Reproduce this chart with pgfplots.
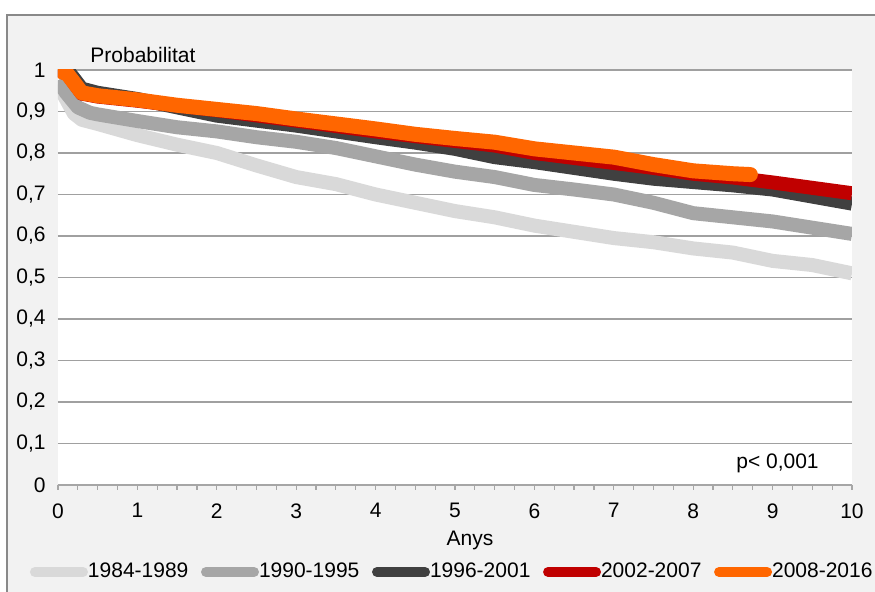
\documentclass[border=0pt]{standalone}
\usepackage{fontspec}
\setmainfont{Liberation Sans}
\usepackage{pgfplots}
\pgfplotsset{compat=1.18}
\usepackage{pgfplotstable}
\definecolor{cA}{HTML}{D9D9D9}
\definecolor{cB}{HTML}{A6A6A6}
\definecolor{cC}{HTML}{404040}
\definecolor{cD}{HTML}{C00000}
\definecolor{cE}{HTML}{FF6600}
\definecolor{bgc}{HTML}{F2F2F2}
\definecolor{bordc}{HTML}{898989}
\definecolor{gridc}{HTML}{A0A0A0}
\definecolor{axc}{HTML}{A6A6A6}

\pgfplotstableread{
x y
0 0.965
0.1 0.93
0.2 0.895
0.3 0.88
0.5 0.87
1 0.843
1.5 0.82
2 0.80
2.5 0.77
3 0.742
3.5 0.725
4 0.70
4.5 0.68
5 0.66
5.5 0.645
6 0.625
6.5 0.61
7 0.595
7.5 0.585
8 0.57
8.5 0.56
9 0.54
9.5 0.53
10 0.51
}\tA

\pgfplotstableread{
x y
0 0.975
0.1 0.945
0.25 0.91
0.4 0.897
0.5 0.893
1 0.877
1.5 0.862
2 0.852
2.5 0.838
3 0.827
3.5 0.812
4 0.792
4.5 0.772
5 0.755
5.5 0.742
6 0.723
6.5 0.712
7 0.70
7.5 0.68
8 0.655
8.5 0.645
9 0.635
9.5 0.62
10 0.605
}\tB

\pgfplotstableread{
x y
0 1.0
0.12 1.0
0.3 0.955
0.5 0.945
1 0.93
1.5 0.91
2 0.89
2.5 0.878
3 0.866
3.5 0.852
4 0.838
4.5 0.825
5 0.81
5.5 0.79
6 0.778
6.5 0.764
7 0.75
7.5 0.738
8 0.73
8.5 0.722
9 0.712
9.5 0.695
10 0.678
}\tC

\pgfplotstableread{
x y
0 1.0
0.12 0.99
0.3 0.943
0.5 0.936
1 0.926
2 0.903
3 0.878
4 0.852
5 0.829
5.5 0.818
6 0.80
6.5 0.788
7 0.776
7.5 0.764
8 0.75
8.5 0.741
9 0.729
9.5 0.716
10 0.703
}\tD

\pgfplotstableread{
x y
0 1.0
0.12 0.99
0.3 0.945
0.5 0.938
1 0.928
1.5 0.915
2 0.905
2.5 0.895
3 0.882
3.5 0.87
4 0.858
4.5 0.845
5 0.835
5.5 0.826
6 0.81
6.5 0.80
7 0.79
7.5 0.772
8 0.757
8.5 0.75
8.72 0.748
}\tE

\begin{document}
\fontsize{10.5pt}{12.6pt}\selectfont
\begin{tikzpicture}
\useasboundingbox (0,0) rectangle (437.5pt,296pt);
\fill[white] (0,0) rectangle (437.5pt,296pt);
\fill[bgc] (3.5pt,0) rectangle (437.5pt,288.5pt);
\draw[bordc, line width=1pt] (3.5pt,0) -- (3.5pt,288.5pt) -- (437.5pt,288.5pt);
\begin{axis}[
  at={(29pt,53.5pt)}, anchor=south west,
  scale only axis, width=397pt, height=207.5pt,
  xmin=0, xmax=10, ymin=0, ymax=1,
  axis background/.style={fill=white},
  axis x line*=bottom, axis y line*=left,
  x axis line style={draw=axc, line width=1pt},
  y axis line style={draw=none},
  xtick={0,1,2,3,4,5,6,7,8,9,10},
  minor x tick num=3,
  tick align=outside,
  major tick length=2.5pt, minor tick length=2.5pt,
  x tick style={draw=axc, line width=0.6pt},
  ytick={0,0.1,0.2,0.3,0.4,0.5,0.6,0.7,0.8,0.9,1},
  y tick style={draw=none},
  ymajorgrids, grid style={draw=gridc, line width=0.6pt},
  /pgf/number format/assume math mode=true,
  /pgf/number format/use comma,
  xticklabel style={yshift=-3pt},
  tick label style={font=\fontsize{10.5pt}{12.6pt}\selectfont},
  legend columns=5,
  legend style={at={(-0.0353,-0.2096)}, anchor=west, draw=none, fill=none,
     inner sep=0pt, outer sep=0pt,
     nodes={inner sep=0pt, font=\fontsize{10.5pt}{12.6pt}\selectfont},
     /tikz/every even column/.append style={column sep=6.3pt}},
  legend cell align=left,
  legend image code/.code={
    \draw[#1, line width=5pt, line cap=round] (2.5pt,0pt) -- (26.5pt,0pt);
  },
]
\addplot[cA, line width=7pt, line join=round] table[x=x,y=y] {\tA};
\addlegendentry{1984-1989}
\addplot[cB, line width=7pt, line join=round] table[x=x,y=y] {\tB};
\addlegendentry{1990-1995}
\addplot[cC, line width=7pt, line join=round] table[x=x,y=y] {\tC};
\addlegendentry{1996-2001}
\addplot[cD, line width=7pt, line join=round] table[x=x,y=y] {\tD};
\addlegendentry{2002-2007}
\addplot[cE, line width=7.5pt, line join=round, line cap=round] table[x=x,y=y] {\tE};
\addlegendentry{2008-2016}
\end{axis}
\node[anchor=west] at (41.5pt,268.5pt) {Probabilitat};
\node[anchor=base] at (235pt,23pt) {Anys};
\node[anchor=base] at (388.75pt,61.5pt) {p< 0,001};
\end{tikzpicture}
\end{document}
